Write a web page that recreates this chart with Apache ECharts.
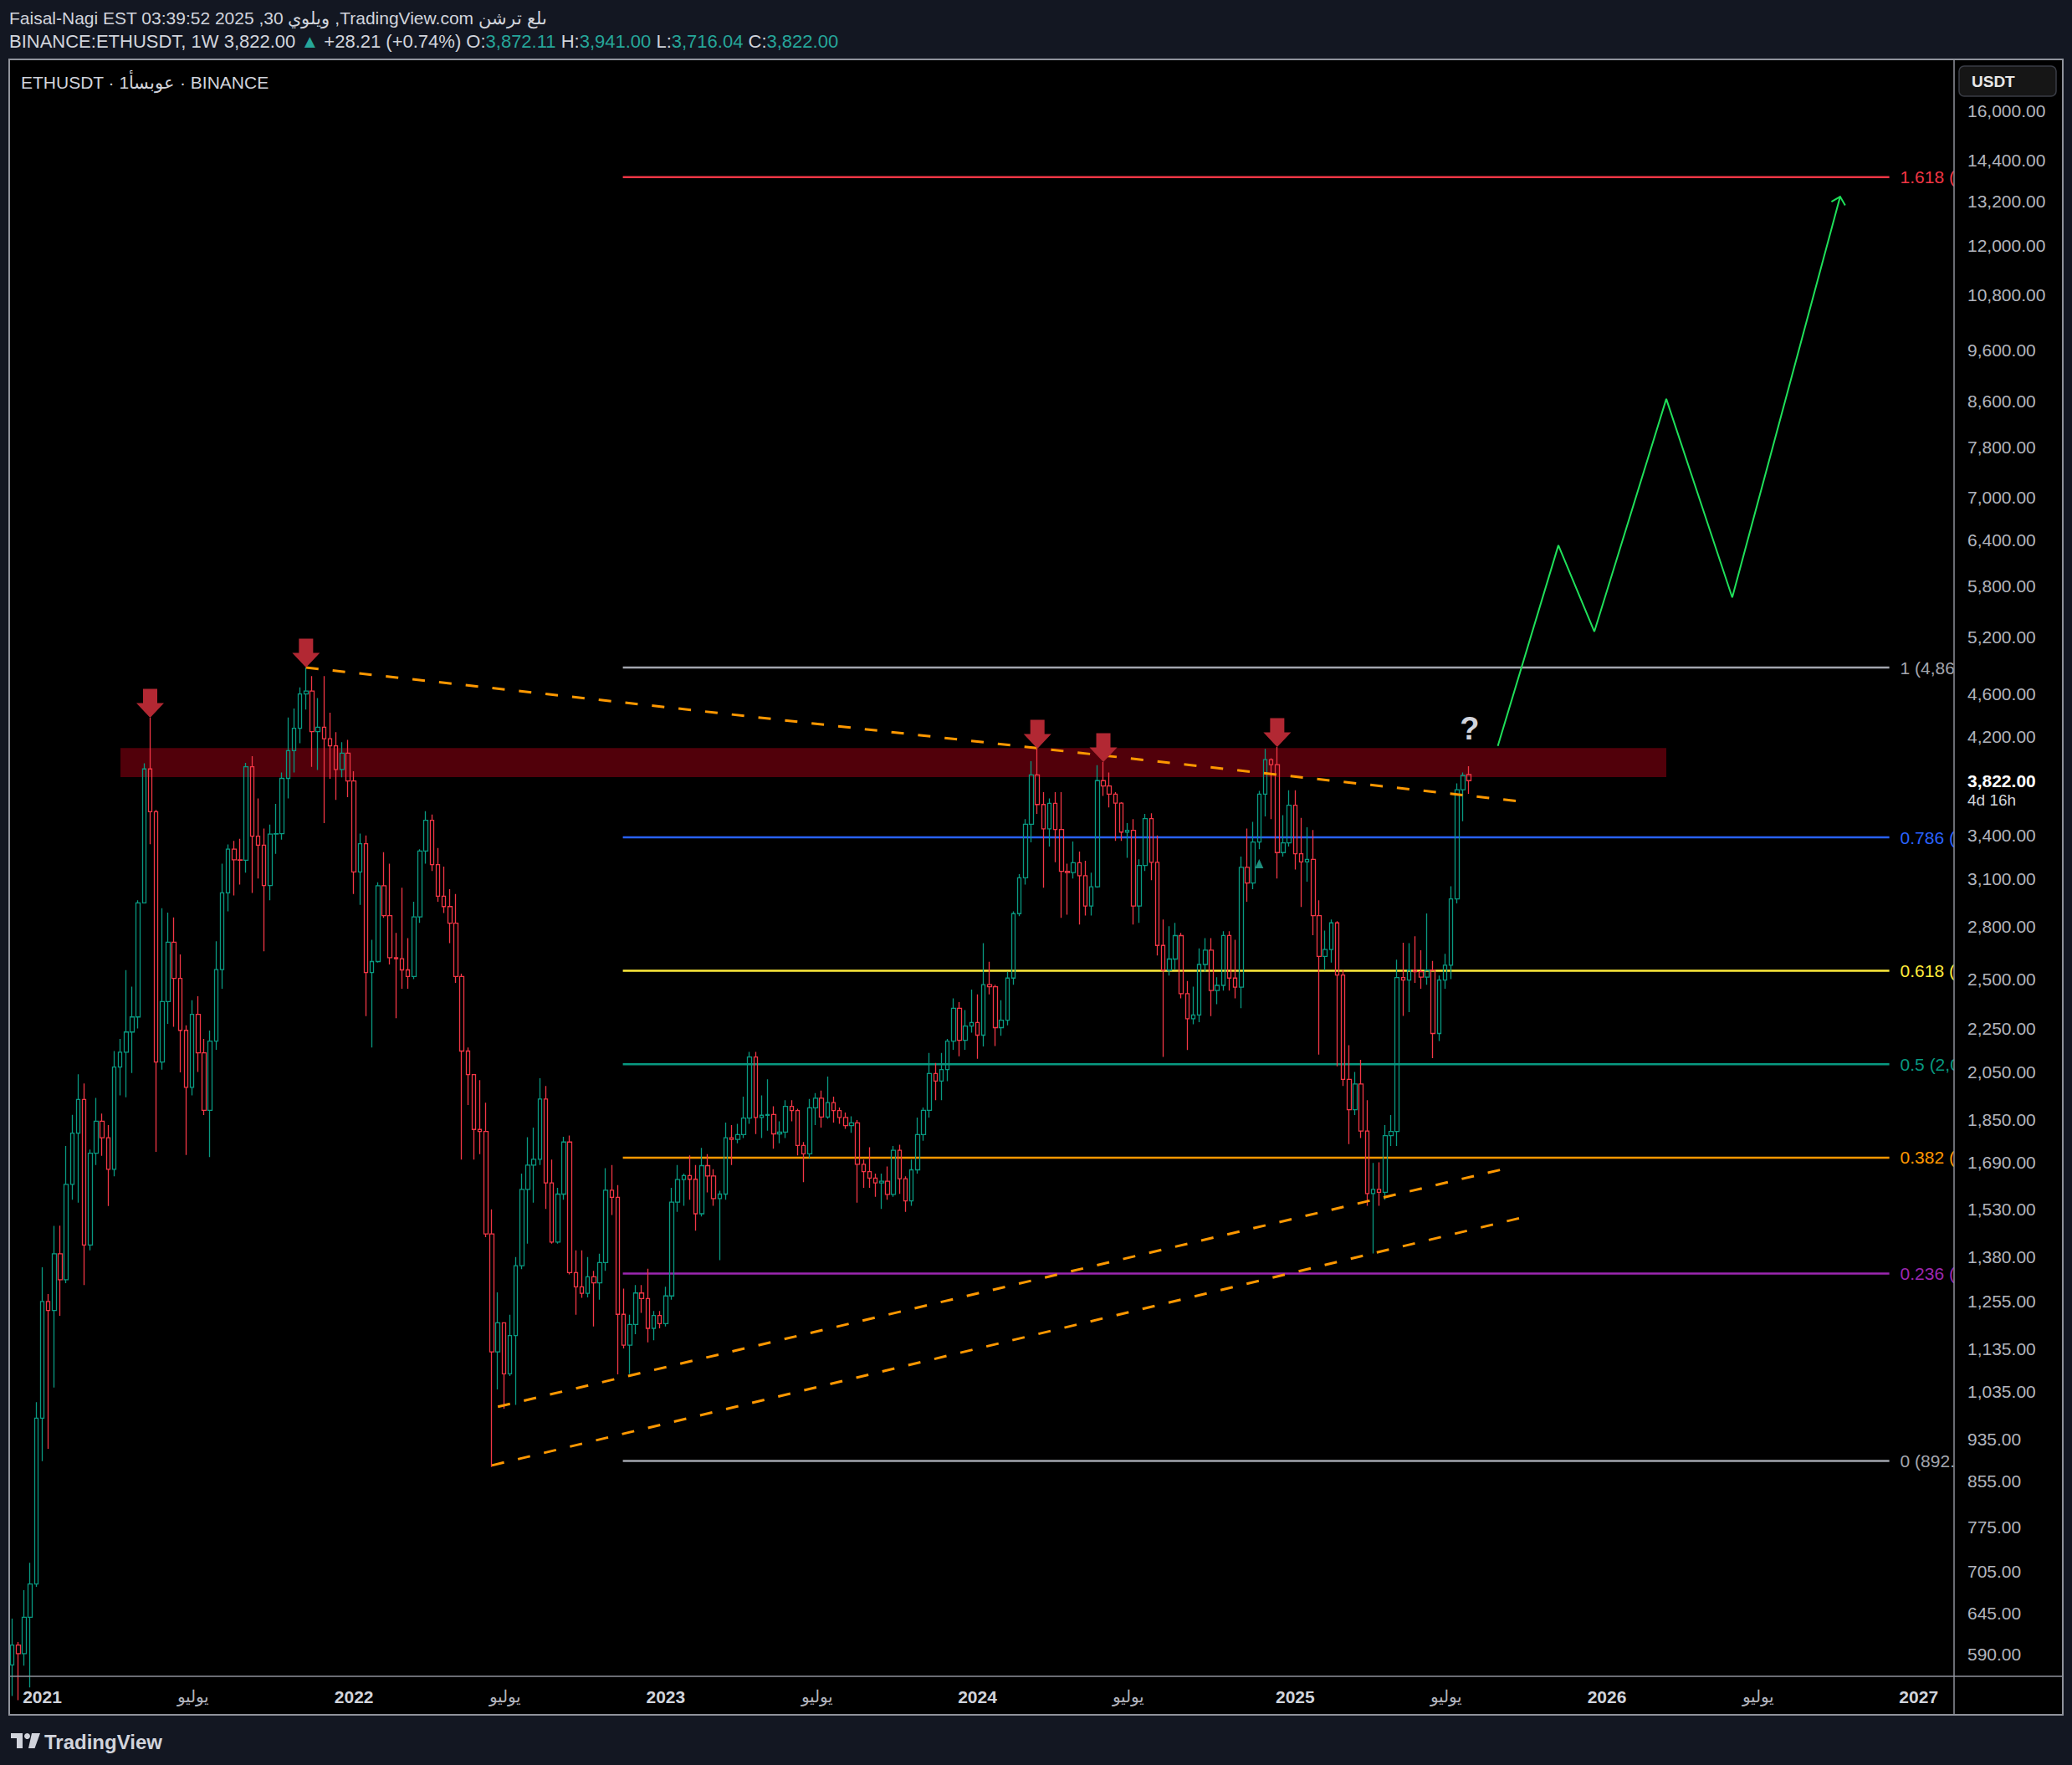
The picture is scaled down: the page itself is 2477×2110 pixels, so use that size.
<!DOCTYPE html>
<html>
<head>
<meta charset="utf-8">
<title>ETHUSDT 1W</title>
<script src="https://cdn.jsdelivr.net/npm/echarts@6.0.0/dist/echarts.min.js"></script>
<style>
html,body{margin:0;padding:0;background:#131722;overflow:hidden;}
#chart{width:2477px;height:2110px;}
</style>
</head>
<body>
<div id="chart"></div>
<script>
// ================= DATA =================
// Weekly candles. Week index = weeks since Monday 2021-01-04. Rows: [open, high, low, close]
const ohlc2020 = [ // weeks -5..-1
  [577, 637, 540, 602], [602, 606, 535, 591], [591, 677, 576, 639], [639, 718, 550, 686], [686, 1012, 682, 978]
];
const ohlc2021 = [ // weeks 0..51
  [978, 1350, 892, 1255], [1255, 1275, 916, 1231], [1231, 1475, 1044, 1390], [1390, 1476, 1217, 1315],
  [1315, 1750, 1305, 1612], [1612, 1871, 1560, 1799], [1799, 2040, 1550, 1933], [1933, 2000, 1300, 1416],
  [1416, 1737, 1400, 1723], [1723, 1940, 1680, 1845], [1845, 1876, 1714, 1781], [1781, 1830, 1539, 1665],
  [1665, 2144, 1640, 2072], [2072, 2200, 1950, 2139], [2139, 2549, 1942, 2233], [2233, 2460, 2046, 2306],
  [2306, 2960, 2250, 2943], [2943, 3966, 2940, 3919], [3919, 4372, 3337, 3576], [3576, 3590, 1728, 2094],
  [2094, 2909, 2060, 2383], [2383, 2882, 2272, 2706], [2706, 2853, 2258, 2504], [2504, 2636, 2048, 2241],
  [2241, 2265, 1717, 1984], [1984, 2390, 1950, 2319], [2319, 2410, 2050, 2136], [2136, 2200, 1870, 1889],
  [1889, 2240, 1709, 2190], [2190, 2711, 2150, 2552], [2552, 3200, 2450, 3007], [3007, 3335, 2890, 3301],
  [3301, 3360, 2990, 3227], [3227, 3375, 3060, 3224], [3224, 3970, 3140, 3937], [3937, 4027, 3006, 3394],
  [3394, 3680, 3100, 3330], [3330, 3450, 2654, 3054], [3054, 3480, 2960, 3409], [3409, 3637, 3269, 3413],
  [3413, 3890, 3370, 3841], [3841, 4375, 3680, 4075], [4075, 4460, 3890, 4275], [4275, 4665, 4140, 4600],
  [4600, 4868, 4450, 4630], [4630, 4780, 3937, 4245], [4245, 4560, 3910, 4285], [4285, 4780, 3490, 4181],
  [4181, 4420, 3838, 4117], [4117, 4240, 3668, 3915], [3915, 4150, 3850, 4053], [4053, 4170, 3690, 3819]
];
const ohlc2022 = [ // weeks 52..103
  [3819, 3900, 3000, 3144], [3144, 3413, 2930, 3340], [3340, 3400, 2310, 2536], [2536, 2720, 2160, 2596],
  [2596, 3075, 2590, 3053], [3053, 3280, 2850, 2864], [2864, 3200, 2580, 2618], [2618, 2760, 2300, 2612],
  [2612, 3040, 2450, 2550], [2550, 2730, 2450, 2514], [2514, 2950, 2500, 2856], [2856, 3300, 2820, 3288],
  [3288, 3580, 3200, 3512], [3512, 3555, 3150, 3194], [3194, 3310, 2950, 2985], [2985, 3180, 2880, 2920],
  [2920, 3030, 2700, 2818], [2818, 3000, 2480, 2514], [2514, 2530, 1700, 2144], [2144, 2160, 1910, 2039],
  [2039, 2040, 1700, 1813], [1813, 2015, 1720, 1805], [1805, 1920, 1440, 1450], [1450, 1528, 881, 1127],
  [1127, 1280, 1040, 1199], [1199, 1200, 998, 1075], [1075, 1220, 1070, 1167], [1167, 1380, 1006, 1355],
  [1355, 1650, 1345, 1595], [1595, 1783, 1420, 1680], [1680, 1820, 1550, 1701], [1701, 2023, 1680, 1935],
  [1935, 1990, 1530, 1617], [1617, 1700, 1420, 1425], [1425, 1600, 1420, 1579], [1579, 1785, 1560, 1765],
  [1765, 1790, 1330, 1335], [1335, 1400, 1220, 1295], [1295, 1400, 1265, 1277], [1277, 1380, 1266, 1323],
  [1323, 1340, 1190, 1306], [1306, 1390, 1260, 1364], [1364, 1669, 1340, 1592], [1592, 1680, 1510, 1568],
  [1568, 1610, 1074, 1221], [1221, 1290, 1135, 1143], [1143, 1220, 1075, 1195], [1195, 1300, 1170, 1278],
  [1278, 1300, 1225, 1263], [1263, 1346, 1150, 1185], [1185, 1230, 1155, 1218], [1218, 1230, 1185, 1197]
];
const ohlc2023 = [ // weeks 104..155
  [1197, 1295, 1190, 1270], [1270, 1600, 1260, 1552], [1552, 1680, 1520, 1629], [1629, 1650, 1540, 1643],
  [1643, 1715, 1560, 1630], [1630, 1680, 1460, 1514], [1514, 1743, 1505, 1678], [1678, 1720, 1585, 1641],
  [1641, 1665, 1540, 1564], [1564, 1590, 1371, 1579], [1579, 1840, 1560, 1781], [1781, 1830, 1680, 1775],
  [1775, 1835, 1760, 1793], [1793, 1945, 1780, 1858], [1858, 2140, 1835, 2117], [2117, 2140, 1795, 1860],
  [1860, 1950, 1780, 1869], [1869, 2018, 1808, 1872], [1872, 1905, 1740, 1796], [1796, 1845, 1760, 1803],
  [1803, 1930, 1780, 1905], [1905, 1930, 1845, 1888], [1888, 1895, 1715, 1752], [1752, 1765, 1620, 1721],
  [1721, 1935, 1705, 1899], [1899, 1960, 1830, 1938], [1938, 1970, 1820, 1862], [1862, 2030, 1855, 1920],
  [1920, 1945, 1840, 1888], [1888, 1900, 1835, 1860], [1860, 1880, 1815, 1828], [1828, 1865, 1800, 1839],
  [1839, 1850, 1550, 1683], [1683, 1700, 1600, 1657], [1657, 1745, 1600, 1634], [1634, 1650, 1570, 1617],
  [1617, 1650, 1530, 1623], [1623, 1675, 1560, 1578], [1578, 1750, 1570, 1734], [1734, 1755, 1580, 1632],
  [1632, 1640, 1520, 1556], [1556, 1700, 1540, 1663], [1663, 1860, 1650, 1793], [1793, 1900, 1770, 1889],
  [1889, 2135, 1860, 2043], [2043, 2090, 1930, 2011], [2011, 2135, 1930, 2061], [2061, 2200, 2010, 2190],
  [2190, 2400, 2150, 2349], [2349, 2380, 2120, 2194], [2194, 2340, 2150, 2262], [2262, 2445, 2230, 2279]
];
const ohlc2024 = [ // weeks 156..207
  [2279, 2420, 2109, 2218], [2218, 2700, 2165, 2471], [2471, 2595, 2420, 2460], [2460, 2470, 2167, 2254],
  [2254, 2390, 2215, 2290], [2290, 2540, 2265, 2506], [2506, 2890, 2470, 2876], [2876, 3130, 2860, 3105],
  [3105, 3520, 3060, 3482], [3482, 3985, 3350, 3870], [3870, 4093, 3560, 3632], [3632, 3730, 3040, 3448],
  [3448, 3680, 3320, 3641], [3641, 3730, 3210, 3443], [3443, 3730, 2850, 3149], [3149, 3200, 2870, 3140],
  [3140, 3355, 3100, 3207], [3207, 3285, 2810, 3119], [3119, 3220, 2865, 2923], [2923, 3140, 2865, 3046],
  [3046, 3950, 3040, 3822], [3822, 3977, 3700, 3779], [3779, 3890, 3610, 3714], [3714, 3730, 3360, 3643],
  [3643, 3650, 3360, 3424], [3424, 3490, 3240, 3437], [3437, 3520, 2810, 2923], [2923, 3230, 2820, 3188],
  [3188, 3560, 3150, 3524], [3524, 3565, 3090, 3210], [3210, 3400, 2630, 2687], [2687, 2840, 2117, 2549],
  [2549, 2800, 2520, 2610], [2610, 2820, 2550, 2744], [2744, 2760, 2400, 2424], [2424, 2490, 2149, 2297],
  [2297, 2460, 2270, 2316], [2316, 2670, 2280, 2580], [2580, 2730, 2540, 2660], [2660, 2730, 2310, 2440],
  [2440, 2510, 2370, 2467], [2467, 2770, 2440, 2745], [2745, 2770, 2440, 2506], [2506, 2720, 2400, 2458],
  [2458, 3250, 2350, 3176], [3176, 3450, 2950, 3071], [3071, 3500, 3030, 3352], [3352, 3740, 3300, 3714],
  [3714, 4090, 3540, 3997], [3997, 4010, 3520, 3955], [3955, 4107, 3100, 3277], [3277, 3550, 3250, 3346]
];
const ohlc2025 = [ // weeks 208..238
  [3346, 3745, 3320, 3626], [3626, 3745, 3160, 3269], [3269, 3530, 2917, 3213], [3213, 3460, 3080, 3230],
  [3230, 3440, 2746, 2864], [2864, 2960, 2128, 2625], [2625, 2774, 2549, 2664], [2664, 2840, 2590, 2820],
  [2820, 2830, 2075, 2522], [2522, 2550, 1990, 2018], [2018, 2171, 1757, 1891], [1891, 2050, 1870, 1998],
  [1998, 2104, 1780, 1807], [1807, 1930, 1540, 1581], [1581, 1688, 1391, 1595], [1595, 1690, 1540, 1585],
  [1585, 1830, 1560, 1789], [1789, 1870, 1750, 1805], [1805, 2607, 1750, 2509], [2509, 2703, 2311, 2495],
  [2495, 2700, 2330, 2549], [2549, 2740, 2480, 2540], [2540, 2660, 2450, 2511], [2511, 2877, 2470, 2549],
  [2549, 2600, 2112, 2226], [2226, 2520, 2190, 2495], [2495, 2640, 2450, 2576], [2576, 3050, 2500, 2968],
  [2968, 3800, 2940, 3749], [3749, 3890, 3505, 3865], [3872, 3941, 3716, 3822]
];
const yearStartWeeks = [-5, 0, 52, 104, 156, 208];

// Price-axis tick labels (USDT)
const yTickValues = [16000, 14400, 13200, 12000, 10800, 9600, 8600, 7800, 7000, 6400, 5800, 5200, 4600, 4200,
  3400, 3100, 2800, 2500, 2250, 2050, 1850, 1690, 1530, 1380, 1255, 1135, 1035, 935, 855, 775, 705, 645, 590];
const lastPrice = 3822;
const lastPriceCountdown = '4d 16h';

// Time-axis labels (week positions)
const yearTickWeeks = [0, 52, 104, 156, 209, 261, 313];
const yearTickLabels = ['2021', '2022', '2023', '2024', '2025', '2026', '2027'];
const julyTickWeeks = [25.25, 77.25, 129.25, 181.25, 234.25, 286.25];
const julyTickLabel = 'يوليو';

// Fibonacci retracement levels
const fibRatios = [1.618, 1, 0.786, 0.618, 0.5, 0.382, 0.236, 0];
const fibPrices = [13888.5, 4868, 3385.4, 2545.6, 2084.5, 1706.9, 1332.4, 892.5];
const fibSpanWeeks = [96.85, 308.1];

// Drawings (week, price)
const resistanceZone = [13.05, 270.9, 4099, 3851];   // from week, to week, top price, bottom price
const descendingTrend = [[44, 4868], [247.5, 3651]];
const channelUpper = [[76, 1002], [243.6, 1665]];
const channelLower = [[75, 884], [247.1, 1503]];
const projectionPath = [[242.8, 4117], [252.9, 6322], [258.9, 5257], [270.9, 8645], [281.9, 5655], [299.9, 13322]];
const rejectionArrows = [[18, 4372], [44, 4868], [166, 4093], [177, 3977], [206, 4107]];
const questionMark = [[238.1, 4272]];
const eventMarker = [[203, 3197]];

// Header texts (the snapshot header shows its Arabic words in left-to-right letter order)
const LRO = '\u202D', PDF = '\u202C';
const headerLine1 = 'Faisal-Nagi EST 03:39:52 2025 ,30 ' + LRO + 'يوليو' + PDF + ' ,TradingView.com ' + LRO + 'نشرت على' + PDF;
const symbolLegend = 'ETHUSDT · ' + LRO + '1أسبوع' + PDF + ' · BINANCE';
const quote = {symbol: 'BINANCE:ETHUSDT, 1W', last: '3,822.00', change: '+28.21 (+0.74%)',
  o: '3,872.11', h: '3,941.00', l: '3,716.04', c: '3,822.00'};

// View extents
const X_MIN = -5.372, X_MAX = 318.9;
const Y_MIN = 563.1, Y_MAX = 17867;

// ================= STYLE =================
const STYLE = {
  up: '#089981', down: '#f23645', zone: '#51000a', arrow: '#b22833', trend: '#ff9800',
  projection: '#1fe05a', marker: '#1f8f7d', question: '#d1d4dc',
  fib: ['#f23645', '#a3a6af', '#2962ff', '#ffeb3b', '#089981', '#ff9800', '#9c27b0', '#a3a6af'],
  axisText: '#b2b5be', text: '#d1d4dc', teal: '#26a69a', frame: '#8f929b', page: '#131722'
};
const FONT = '"Liberation Sans", Arial, sans-serif';
const fmt = v => Number(v).toLocaleString('en-US', {minimumFractionDigits: 2, maximumFractionDigits: 2});

// ================= BUILD =================
const candles = [];
[ohlc2020, ohlc2021, ohlc2022, ohlc2023, ohlc2024, ohlc2025].forEach((rows, k) => {
  rows.forEach((r, i) => candles.push([yearStartWeeks[k] + i, r[0], r[3], r[2], r[1]]));
});
const fibData = fibRatios.map((r, i) => [fibSpanWeeks[0], fibSpanWeeks[1], fibPrices[i], i]);
const xLabelData = yearTickWeeks.map((w, i) => [w, Y_MIN, yearTickLabels[i], 1])
  .concat(julyTickWeeks.map(w => [w, Y_MIN, julyTickLabel, 0]));

const chart = echarts.init(document.getElementById('chart'), null, {renderer: 'svg', width: 2477, height: 2110});

const txt = (extra) => Object.assign({align: 'left', verticalAlign: 'middle', textAlign: 'left', textVerticalAlign: 'middle'}, extra);
const PRICE_LABEL_X = 2352;

const option = {
  backgroundColor: '#000000',
  animation: false,
  grid: {left: 12, top: 71, width: 2324, height: 1933, containLabel: false, outerBoundsMode: 'none', show: false},
  xAxis: {type: 'value', min: X_MIN, max: X_MAX, show: false, splitLine: {show: false}},
  yAxis: {type: 'log', logBase: 10, min: Y_MIN, max: Y_MAX, show: false, splitLine: {show: false}},
  tooltip: {show: false},
  graphic: [
    // page bands outside the chart frame
    {type: 'rect', z: 50, silent: true, shape: {x: 0, y: 0, width: 2477, height: 71}, style: {fill: STYLE.page}},
    {type: 'rect', z: 50, silent: true, shape: {x: 0, y: 2050, width: 2477, height: 60}, style: {fill: STYLE.page}},
    {type: 'rect', z: 50, silent: true, shape: {x: 0, y: 0, width: 11, height: 2110}, style: {fill: STYLE.page}},
    {type: 'rect', z: 50, silent: true, shape: {x: 2466, y: 0, width: 11, height: 2110}, style: {fill: STYLE.page}},
    // frame
    {type: 'rect', z: 60, silent: true, shape: {x: 11, y: 71, width: 2455, height: 1979}, style: {fill: null, stroke: STYLE.frame, lineWidth: 2}},
    {type: 'line', z: 60, silent: true, shape: {x1: 2336, y1: 71, x2: 2336, y2: 2050}, style: {stroke: STYLE.frame, lineWidth: 1.5}},
    {type: 'line', z: 60, silent: true, shape: {x1: 11, y1: 2004, x2: 2466, y2: 2004}, style: {stroke: STYLE.frame, lineWidth: 1.5}},
    // header
    {type: 'text', z: 61, silent: true, x: 11, y: 21, style: txt({text: headerLine1, fill: STYLE.text, font: '21px ' + FONT})},
    {type: 'text', z: 61, silent: true, x: 11, y: 49, style: txt({
      text: '{w|' + quote.symbol + ' ' + quote.last + ' }{g|▲ }{w|' + quote.change + ' O:}{g|' + quote.o + ' }{w|H:}{g|' + quote.h + ' }{w|L:}{g|' + quote.l + ' }{w|C:}{g|' + quote.c + '}',
      font: '22px ' + FONT, fill: STYLE.text,
      rich: {w: {fill: STYLE.text, font: '22px ' + FONT}, g: {fill: STYLE.teal, font: '22px ' + FONT}}
    })},
    {type: 'text', z: 61, silent: true, x: 25, y: 98, style: txt({text: symbolLegend, fill: STYLE.text, font: '21px ' + FONT})},
    // currency box on price scale
    {type: 'rect', z: 61, silent: true, shape: {x: 2342, y: 79, width: 116, height: 36, r: 6}, style: {fill: '#161616', stroke: '#3a3d46', lineWidth: 1.5}},
    {type: 'text', z: 62, silent: true, x: 2357, y: 97, style: txt({text: 'USDT', fill: '#e8e8e8', font: 'bold 19px ' + FONT})},
    // TradingView logo
    {type: 'rect', z: 61, silent: true, shape: {x: 13, y: 2072, width: 14, height: 6}, style: {fill: STYLE.text}},
    {type: 'rect', z: 61, silent: true, shape: {x: 20, y: 2072, width: 7, height: 18}, style: {fill: STYLE.text}},
    {type: 'circle', z: 61, silent: true, shape: {cx: 32.5, cy: 2075.5, r: 3.5}, style: {fill: STYLE.text}},
    {type: 'polygon', z: 61, silent: true, shape: {points: [[38, 2072], [48, 2072], [41.5, 2090], [34, 2090]]}, style: {fill: STYLE.text}},
    {type: 'text', z: 61, silent: true, x: 53, y: 2082, style: txt({text: 'TradingView', fill: STYLE.text, font: 'bold 24px ' + FONT})}
  ],
  series: [
    { // resistance zone
      type: 'custom', name: 'zone', z: 1, silent: true, clip: true,
      data: [resistanceZone], encode: {x: [0, 1], y: [2, 3]},
      renderItem: (params, api) => {
        const a = api.coord([api.value(0), api.value(2)]);
        const b = api.coord([api.value(1), api.value(3)]);
        return {type: 'rect', shape: {x: a[0], y: a[1], width: b[0] - a[0], height: b[1] - a[1]}, style: {fill: STYLE.zone}};
      }
    },
    { // fibonacci levels (labels are cut off by the price scale, as in the original)
      type: 'custom', name: 'fib', z: 2, silent: true, clip: true,
      data: fibData, encode: {x: [0, 1], y: 2},
      renderItem: (params, api) => {
        const idx = api.value(3);
        const a = api.coord([api.value(0), api.value(2)]);
        const b = api.coord([api.value(1), api.value(2)]);
        const color = STYLE.fib[idx];
        const lx = b[0] + 13;
        const avail = PRICE_LABEL_X - 3 - lx;
        return {type: 'group', children: [
          {type: 'line', shape: {x1: a[0], y1: a[1], x2: b[0], y2: b[1]}, style: {stroke: color, lineWidth: 2.5}},
          {type: 'text', x: lx, y: b[1], style: txt({text: fibRatios[idx] + ' (' + fmt(fibPrices[idx]) + ')', fill: color, font: '21px ' + FONT, width: avail, overflow: 'truncate', ellipsis: ''})}
        ]};
      }
    },
    { // candles
      type: 'candlestick', name: 'ETHUSDT', z: 3, silent: true,
      data: candles, encode: {x: 0, y: [1, 2, 3, 4]},
      barWidth: 5,
      itemStyle: {color: 'rgba(0,0,0,0)', color0: 'rgba(0,0,0,0)', borderColor: STYLE.up, borderColor0: STYLE.down, borderColorDoji: STYLE.up, borderWidth: 1.3}
    },
    {type: 'line', name: 'descending', z: 4, silent: true, data: descendingTrend, symbol: 'none', lineStyle: {color: STYLE.trend, width: 3, type: [15, 17]}},
    {type: 'line', name: 'channelUpper', z: 4, silent: true, data: channelUpper, symbol: 'none', lineStyle: {color: STYLE.trend, width: 3, type: [15, 17]}},
    {type: 'line', name: 'channelLower', z: 4, silent: true, data: channelLower, symbol: 'none', lineStyle: {color: STYLE.trend, width: 3, type: [15, 17]}},
    {type: 'line', name: 'projection', z: 4, silent: true, data: projectionPath, symbol: 'none', lineStyle: {color: STYLE.projection, width: 2}},
    { // projection arrow head
      type: 'custom', name: 'projectionHead', z: 4, silent: true, clip: false,
      data: [projectionPath[projectionPath.length - 2].concat(projectionPath[projectionPath.length - 1])],
      encode: {x: [0, 2], y: [1, 3]},
      renderItem: (params, api) => {
        const a = api.coord([api.value(0), api.value(1)]);
        const b = api.coord([api.value(2), api.value(3)]);
        const ang = Math.atan2(b[1] - a[1], b[0] - a[0]);
        const L = 12, s = Math.PI / 4;
        const p1 = [b[0] - L * Math.cos(ang - s), b[1] - L * Math.sin(ang - s)];
        const p2 = [b[0] - L * Math.cos(ang + s), b[1] - L * Math.sin(ang + s)];
        return {type: 'polyline', shape: {points: [p1, b, p2]}, style: {stroke: STYLE.projection, lineWidth: 2, fill: null}};
      }
    },
    { // rejection arrows
      type: 'custom', name: 'arrows', z: 5, silent: true, clip: false,
      data: rejectionArrows, encode: {x: 0, y: 1},
      renderItem: (params, api) => {
        const p = api.coord([api.value(0), api.value(1)]);
        const x = p[0], y = p[1];
        return {type: 'polygon', shape: {points: [[x - 8.5, y - 34.5], [x + 8.5, y - 34.5], [x + 8.5, y - 17.5], [x + 16.5, y - 17.5], [x, y], [x - 16.5, y - 17.5], [x - 8.5, y - 17.5]]}, style: {fill: STYLE.arrow}};
      }
    },
    { // question mark
      type: 'custom', name: 'question', z: 5, silent: true, clip: false,
      data: questionMark, encode: {x: 0, y: 1},
      renderItem: (params, api) => {
        const p = api.coord([api.value(0), api.value(1)]);
        return {type: 'text', x: p[0], y: p[1], style: {text: '?', fill: STYLE.question, font: 'bold 38px ' + FONT, align: 'center', verticalAlign: 'middle', textAlign: 'center', textVerticalAlign: 'middle'}};
      }
    },
    { // small event marker
      type: 'custom', name: 'marker', z: 5, silent: true, clip: false,
      data: eventMarker, encode: {x: 0, y: 1},
      renderItem: (params, api) => {
        const p = api.coord([api.value(0), api.value(1)]);
        return {type: 'polygon', shape: {points: [[p[0], p[1] - 6], [p[0] + 5, p[1] + 5], [p[0] - 5, p[1] + 5]]}, style: {fill: STYLE.marker}};
      }
    },
    { // price scale labels
      type: 'custom', name: 'yLabels', z: 6, silent: true, clip: false,
      data: yTickValues.map(v => [300, v]), encode: {x: 0, y: 1},
      renderItem: (params, api) => {
        const p = api.coord([api.value(0), api.value(1)]);
        return {type: 'text', x: PRICE_LABEL_X, y: p[1], style: txt({text: fmt(api.value(1)), fill: STYLE.axisText, font: '21px ' + FONT})};
      }
    },
    { // last price label
      type: 'custom', name: 'lastPrice', z: 6, silent: true, clip: false,
      data: [[300, lastPrice]], encode: {x: 0, y: 1},
      renderItem: (params, api) => {
        const p = api.coord([api.value(0), api.value(1)]);
        return {type: 'group', children: [
          {type: 'text', x: PRICE_LABEL_X, y: p[1], style: txt({text: fmt(api.value(1)), fill: '#ffffff', font: 'bold 21px ' + FONT})},
          {type: 'text', x: PRICE_LABEL_X, y: p[1] + 23, style: txt({text: lastPriceCountdown, fill: STYLE.text, font: '19px ' + FONT})}
        ]};
      }
    },
    { // time scale labels
      type: 'custom', name: 'xLabels', z: 6, silent: true, clip: false,
      data: xLabelData, encode: {x: 0, y: 1},
      renderItem: (params, api) => {
        const d = xLabelData[params.dataIndex];
        const p = api.coord([d[0], d[1]]);
        const isYear = d[3] === 1;
        return {type: 'text', x: p[0], y: 2028, style: {text: d[2], fill: isYear ? STYLE.text : STYLE.axisText, font: (isYear ? 'bold 21px ' : '20px ') + FONT, align: 'center', verticalAlign: 'middle', textAlign: 'center', textVerticalAlign: 'middle'}};
      }
    }
  ]
};
chart.setOption(option);
</script>
</body>
</html>
